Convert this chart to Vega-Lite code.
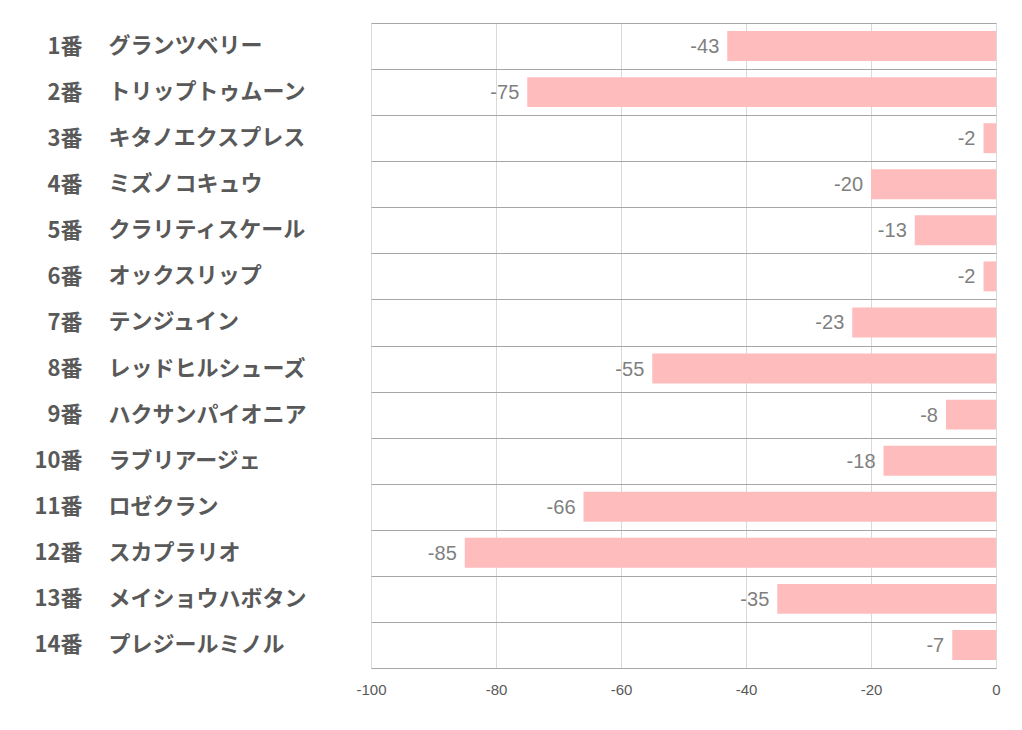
{
  "$schema": "https://vega.github.io/schema/vega-lite/v6.json",
  "width": 625,
  "height": 645,
  "autosize": {"type": "none"},
  "padding": {"left": 371, "top": 23, "right": 26, "bottom": 62},
  "background": "#ffffff",
  "config": {"view": {"stroke": null}},
  "data": {
    "values": [
      {"key": "1番|グランツベリー", "value": -43},
      {"key": "2番|トリップトゥムーン", "value": -75},
      {"key": "3番|キタノエクスプレス", "value": -2},
      {"key": "4番|ミズノコキュウ", "value": -20},
      {"key": "5番|クラリティスケール", "value": -13},
      {"key": "6番|オックスリップ", "value": -2},
      {"key": "7番|テンジュイン", "value": -23},
      {"key": "8番|レッドヒルシューズ", "value": -55},
      {"key": "9番|ハクサンパイオニア", "value": -8},
      {"key": "10番|ラブリアージェ", "value": -18},
      {"key": "11番|ロゼクラン", "value": -66},
      {"key": "12番|スカプラリオ", "value": -85},
      {"key": "13番|メイショウハボタン", "value": -35},
      {"key": "14番|プレジールミノル", "value": -7}
    ]
  },
  "layer": [
    {
      "mark": {"type": "bar", "color": "#ffbcbc", "height": {"band": 0.65}},
      "encoding": {
        "y": {
          "field": "key",
          "type": "nominal",
          "sort": null,
          "scale": {"paddingInner": 0, "paddingOuter": 0},
          "axis": {
            "orient": "left",
            "title": null,
            "labelExpr": "isString(datum.value) ? split(datum.value, '|')[0] : ''",
            "labelAlign": "right",
            "labelPadding": 289,
            "labelLimit": 0,
            "labelFont": "Noto Sans CJK JP",
            "labelFontWeight": "bold",
            "labelFontSize": 22,
            "labelColor": "#595959",
            "ticks": false,
            "domain": false,
            "grid": true,
            "tickBand": "extent",
            "gridColor": "#a6a6a6",
            "gridWidth": 1
          }
        },
        "x": {
          "field": "value",
          "type": "quantitative",
          "scale": {"domain": [-100, 0], "nice": false},
          "axis": {
            "title": null,
            "values": [-100, -80, -60, -40, -20, 0],
            "labelExpr": "'' + datum.value",
            "labelFlush": false,
            "ticks": false,
            "domain": false,
            "grid": true,
            "gridColor": "#d9d9d9",
            "labelFont": "Liberation Sans",
            "labelFontSize": 15,
            "labelColor": "#595959",
            "labelPadding": 14
          }
        }
      }
    },
    {
      "mark": {"type": "text", "align": "right", "baseline": "middle", "dx": -8, "dy": 1, "font": "Liberation Sans", "fontSize": 20, "color": "#7f7f7f"},
      "encoding": {
        "y": {
          "field": "key",
          "type": "nominal",
          "sort": null,
          "axis": {
            "orient": "left",
            "title": null,
            "labelExpr": "isString(datum.value) ? split(datum.value, '|')[1] : ''",
            "labelAlign": "left",
            "labelPadding": 263,
            "labelLimit": 0,
            "labelFont": "Noto Sans CJK JP",
            "labelFontWeight": "bold",
            "labelFontSize": 22,
            "labelColor": "#595959",
            "ticks": false,
            "domain": false,
            "grid": false
          }
        },
        "x": {"field": "value", "type": "quantitative"},
        "text": {"field": "value", "type": "nominal"}
      }
    }
  ],
  "resolve": {"axis": {"y": "independent"}}
}
